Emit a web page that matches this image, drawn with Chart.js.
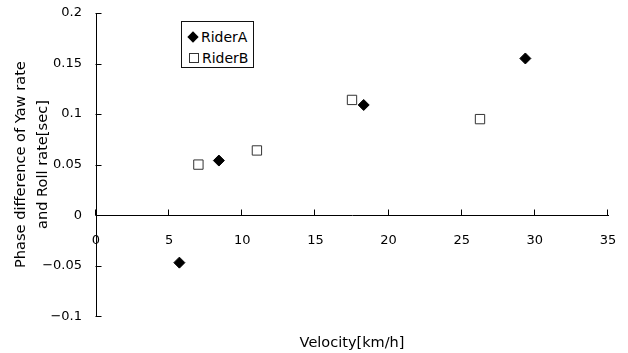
<!DOCTYPE html>
<html>
<head>
<meta charset="utf-8">
<script src="https://cdn.jsdelivr.net/npm/chart.js@4"></script>
<style>
    html, body { margin: 0; padding: 0; background: #fff; }
    .chart-wrap { position: relative; width: 628px; height: 353px; }
    .legend {
        position: absolute; left: 181px; top: 21px; width: 73px; height: 47px;
        box-sizing: border-box; border: 1px solid #111; background: #fff;
        font: 14px "DejaVu Sans", sans-serif; color: #000;
    }
    .legend .mark { position: absolute; box-sizing: border-box; }
    .legend .diamond { left: 7.3px; top: 11.3px; width: 8px; height: 8px; background: #000; transform: rotate(45deg); }
    .legend .square { left: 7.3px; top: 30.7px; width: 10px; height: 10px; border: 1px solid #333; background: #fff; }
    .legend .label { position: absolute; line-height: 16px; white-space: nowrap; }
</style>
</head>
<body>
<div class="chart-wrap">
    <canvas id="phaseChart"></canvas>
    <div class="legend">
        <span class="mark diamond"></span><span class="label" style="left:19px; top:7px;">RiderA</span>
        <span class="mark square"></span><span class="label" style="left:20px; top:28px;">RiderB</span>
    </div>
</div>
<script>
const riderASpeed = [5.7, 8.4, 18.3, 29.35];
const riderAPhase = [-0.047, 0.054, 0.109, 0.155];

const riderBSpeed = [7.0, 11.0, 17.5, 26.25];
const riderBPhase = [0.050, 0.064, 0.114, 0.095];

const xTickValues = [0, 5, 10, 15, 20, 25, 30, 35];
const xTickLabels = ['0', '5', '10', '15', '20', '25', '30', '35'];

const yTickValues = [-0.1, -0.05, 0, 0.05, 0.1, 0.15, 0.2];
const yTickLabels = ['\u22120.1', '\u22120.05', '0', '0.05', '0.1', '0.15', '0.2'];

const toPoints = (xs, ys) => xs.map((v, i) => ({x: v, y: ys[i]}));

// Excel style ticks that point into the plot
const insideTicks = {
    id: 'insideTicks',
    afterDatasetsDraw(chart) {
        const {ctx, scales: {x, y}} = chart;
        const zero = Math.round(y.getPixelForValue(0)) + 0.5;
        const left = Math.round(x.getPixelForValue(0)) - 0.5;

        ctx.save();
        ctx.strokeStyle = '#000';
        ctx.lineWidth = 1;
        ctx.beginPath();
        x.ticks.forEach(tick => {
            const px = Math.round(x.getPixelForValue(tick.value)) - 0.5;
            ctx.moveTo(px, zero);
            ctx.lineTo(px, zero - 6);
        });
        y.ticks.forEach(tick => {
            const py = Math.round(y.getPixelForValue(tick.value)) + 0.5;
            ctx.moveTo(left, py);
            ctx.lineTo(left + 6, py);
        });
        ctx.stroke();
        ctx.restore();
    }
};

const tickFont = {family: 'DejaVu Sans', size: 13};
const titleFont = {family: 'DejaVu Sans', size: 14.6, lineHeight: 1.45};

new Chart(document.querySelector('#phaseChart'), {
    type: 'scatter',
    data: {
        datasets: [{
            label: 'RiderA',
            data: toPoints(riderASpeed, riderAPhase),
            pointStyle: 'rectRot',
            pointRadius: 5.5,
            pointHoverRadius: 5.5,
            backgroundColor: '#000',
            borderColor: '#000',
            borderWidth: 1
        }, {
            label: 'RiderB',
            data: toPoints(riderBSpeed, riderBPhase),
            pointStyle: 'rect',
            pointRadius: 6.6,
            pointHoverRadius: 6.6,
            backgroundColor: '#fff',
            borderColor: '#333',
            borderWidth: 1
        }]
    },
    plugins: [insideTicks],
    options: {
        responsive: true,
        maintainAspectRatio: false,
        animation: false,
        layout: {
            autoPadding: false,
            padding: {left: 0, top: 13, right: 20, bottom: 1.4}
        },
        plugins: {
            legend: {display: false},
            tooltip: {enabled: false},
            title: {
                display: true,
                text: 'Velocity[km/h]',
                position: 'bottom',
                fullSize: false,
                color: '#000',
                font: {family: 'DejaVu Sans', size: 14.5, weight: 'normal'},
                padding: {top: 18, bottom: 0}
            }
        },
        scales: {
            x: {
                type: 'linear',
                position: {y: 0},
                min: 0,
                max: 35,
                afterBuildTicks: scale => {
                    scale.ticks = xTickValues.map(v => ({value: v}));
                },
                afterFit: scale => {
                    // the axis sits on y = 0, so it takes no room of its own
                    scale.height = 0;
                    scale.paddingLeft = 0;
                    scale.paddingRight = 0;
                },
                ticks: {
                    color: '#000',
                    font: tickFont,
                    padding: 18,
                    maxRotation: 0,
                    callback: (value, index) => xTickLabels[index]
                },
                grid: {display: true, drawOnChartArea: false, drawTicks: false},
                border: {display: true, color: '#000', width: 1}
            },
            y: {
                type: 'linear',
                position: 'left',
                min: -0.1,
                max: 0.2,
                afterBuildTicks: scale => {
                    scale.ticks = yTickValues.map(v => ({value: v}));
                },
                afterFit: scale => {
                    scale.width = 96;
                    scale.paddingTop = 0;
                    scale.paddingBottom = 0;
                },
                ticks: {
                    color: '#000',
                    font: tickFont,
                    padding: 14,
                    callback: (value, index) => yTickLabels[index]
                },
                grid: {display: true, drawOnChartArea: false, drawTicks: false},
                border: {display: true, color: '#000', width: 1},
                title: {
                    display: true,
                    text: ['Phase difference of Yaw rate', 'and Roll rate[sec]'],
                    color: '#000',
                    font: titleFont,
                    padding: {top: 11, bottom: 0}
                }
            }
        }
    }
});
</script>
</body>
</html>
